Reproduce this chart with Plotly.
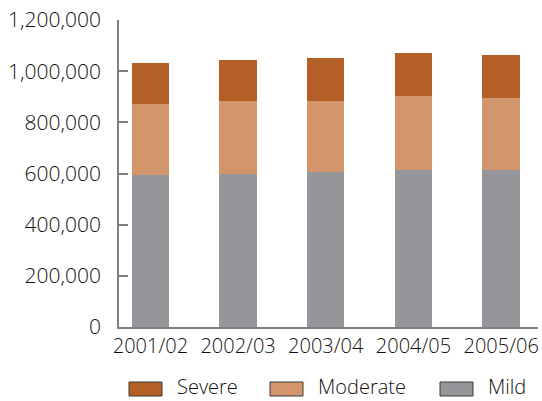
import plotly.graph_objects as go

# Annual counts by severity
years = ["2001/02", "2002/03", "2003/04", "2004/05", "2005/06"]
mild = [595000, 599000, 607000, 615000, 615000]
moderate = [278000, 286000, 278000, 289000, 281000]
severe = [160000, 160000, 168000, 168000, 168000]

series = [("Mild", mild, "#96969a"),
          ("Moderate", moderate, "#d3956c"),
          ("Severe", severe, "#b35f25")]

FONT = "Open Sans"
TEXT = "#111111"
AXIS = "#808080"

fig = go.Figure()
for name, vals, col in series:
    fig.add_trace(go.Bar(x=list(range(len(years))), y=vals, name=name,
                         marker=dict(color=col, line=dict(width=0)),
                         showlegend=False))

W, H = 542, 401
L, R, T, B = 119, 4, 20, 74
pw, ph = W - L - R, H - T - B


def px_x(p):
    return (p - L) / pw


def px_y(p):
    return (H - B - p) / ph


# Legend drawn as boxes with labels below the axis
legend_items = [("Severe", "#b35f25", 129), ("Moderate", "#d3956c", 270), ("Mild", "#96969a", 440)]
shapes = []
annotations = []
for name, col, x0 in legend_items:
    shapes.append(dict(type="rect", xref="paper", yref="paper",
                       x0=px_x(x0), x1=px_x(x0 + 33), y0=px_y(396), y1=px_y(382),
                       fillcolor=col, line=dict(color="#3a3a3a", width=1)))
    annotations.append(dict(xref="paper", yref="paper", x=px_x(x0 + 47), y=px_y(401),
                            text=name, showarrow=False, xanchor="left", yanchor="bottom",
                            borderpad=0,
                            font=dict(family=FONT, size=20, color=TEXT, weight=300)))

fig.update_layout(
    barmode="stack",
    bargap=0.574,
    width=W, height=H,
    margin=dict(l=L, r=R, t=T, b=B, pad=0),
    paper_bgcolor="white", plot_bgcolor="white",
    font=dict(family=FONT, size=20, color=TEXT, weight=300),
    shapes=shapes,
    annotations=annotations,
    xaxis=dict(range=[-0.358, 4.42], tickvals=list(range(len(years))), ticktext=years,
               showline=True, linecolor=AXIS, linewidth=1.5, ticks="",
               showgrid=False, zeroline=False, fixedrange=True,
               tickfont=dict(family=FONT, size=20, color=TEXT, weight=300)),
    yaxis=dict(range=[0, 1200000], tickvals=[0, 200000, 400000, 600000, 800000, 1000000, 1200000],
               tickformat=",", showline=True, linecolor=AXIS, linewidth=1.5,
               ticks="inside", ticklen=9, tickcolor=AXIS, tickwidth=1.5,
               ticklabelstandoff=12,
               showgrid=False, zeroline=False, fixedrange=True,
               tickfont=dict(family=FONT, size=21, color=TEXT, weight=300)),
)

fig.write_html("out.html", config={"displayModeBar": False})
